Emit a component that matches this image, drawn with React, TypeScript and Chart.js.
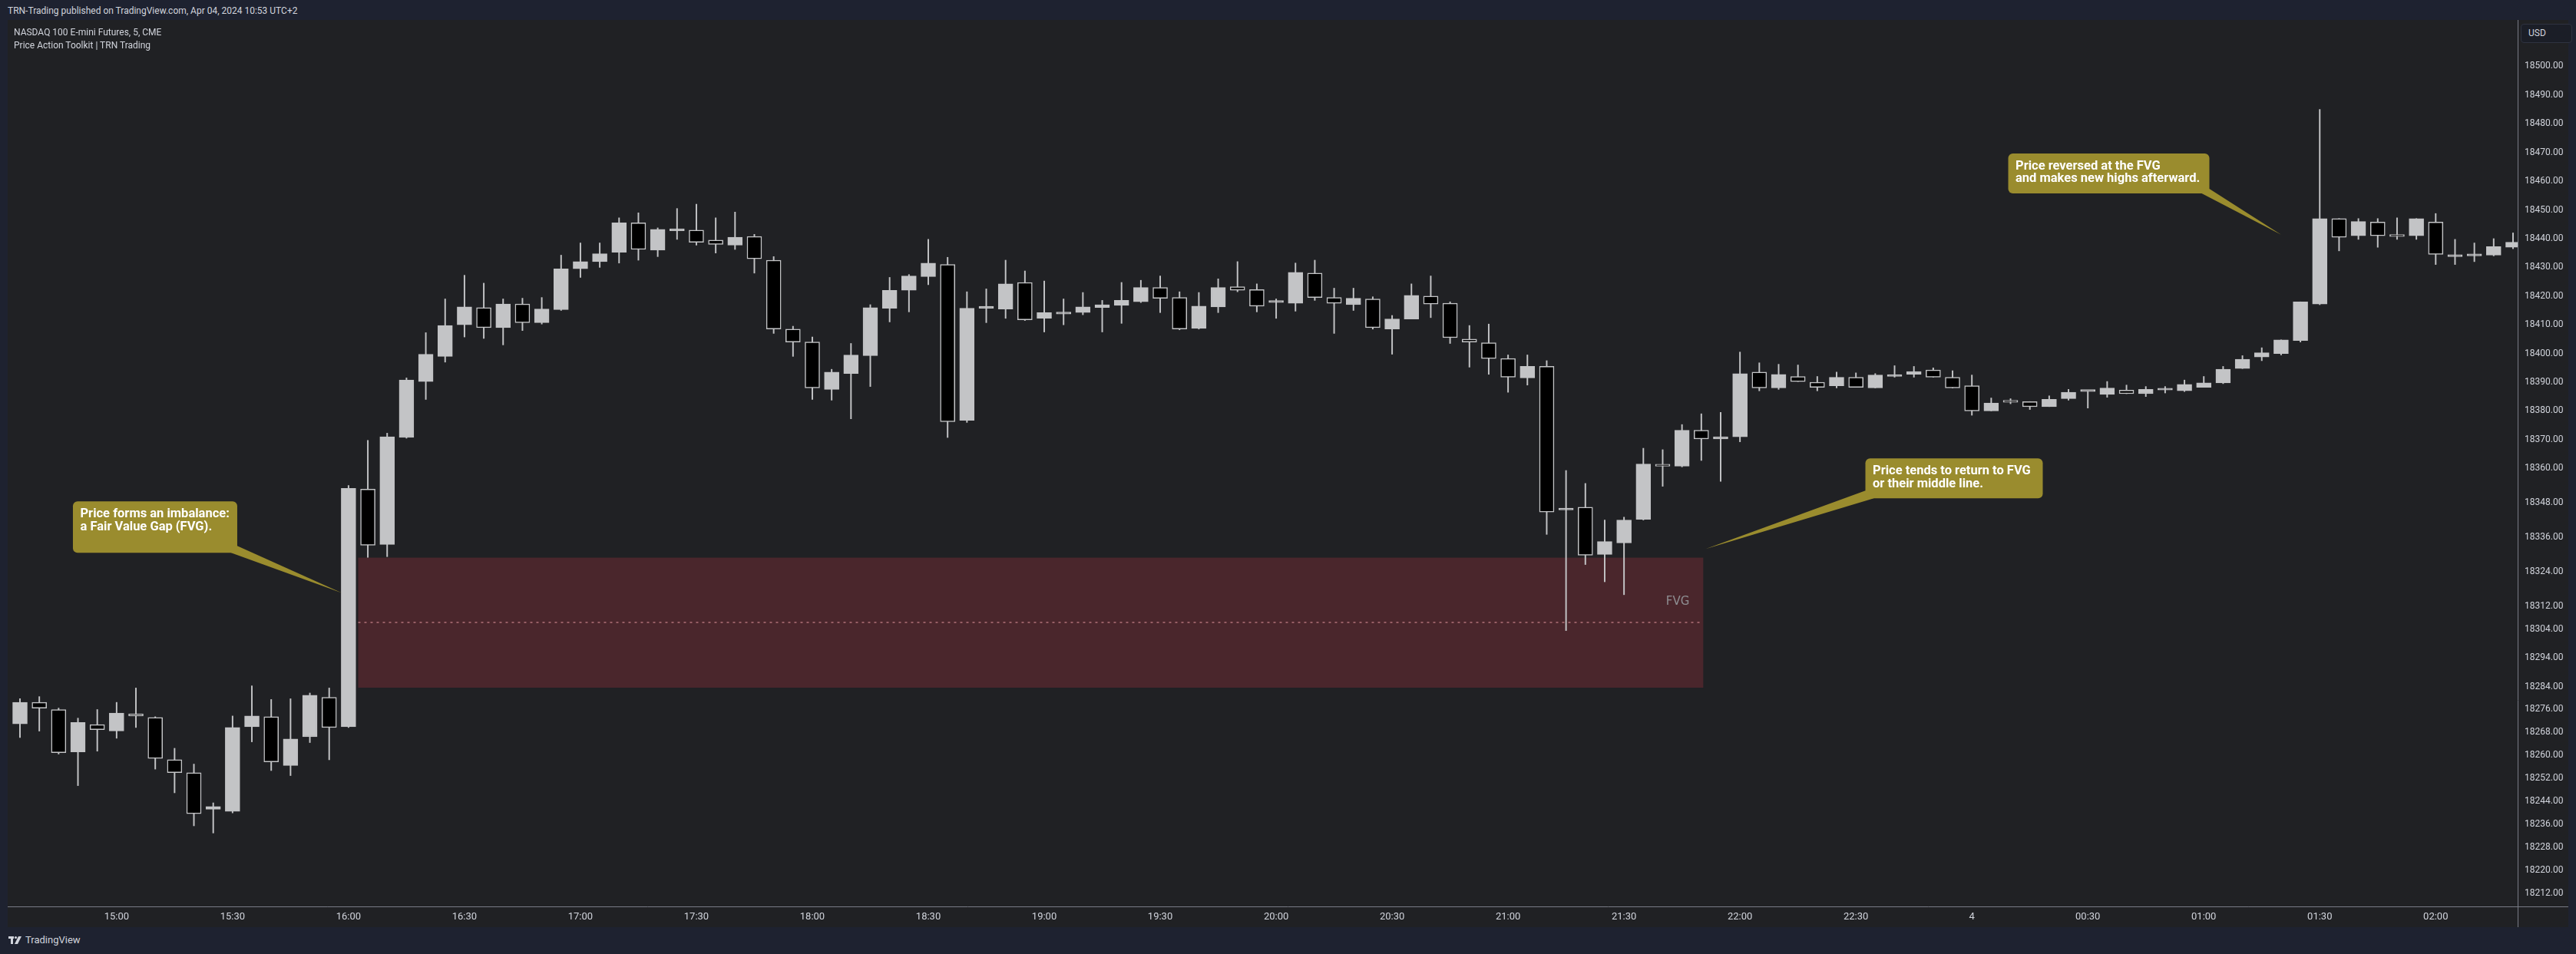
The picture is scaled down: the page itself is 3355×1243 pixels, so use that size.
import React, { useEffect, useRef } from "react";
import { Chart, registerables } from "chart.js";

Chart.register(...registerables);

// ---- Data (5-minute bars, NQ futures) ----
const opens = [
  18271.0, 18278.5, 18276.0, 18261.25, 18270.75, 18268.5, 18274.5, 18273.25, 18258.5, 18254.0,
  18241.25, 18240.5, 18270.0, 18273.5, 18256.5, 18266.5, 18280.25, 18270.0, 18352.75, 18333.5,
  18370.75, 18390.25, 18399.0, 18410.0, 18416.0, 18409.0, 18417.25, 18410.75, 18415.25, 18429.5,
  18432.0, 18435.25, 18445.5, 18436.0, 18442.75, 18443.0, 18439.5, 18437.75, 18440.75, 18432.5,
  18408.5, 18404.0, 18387.5, 18393.0, 18399.25, 18415.75, 18422.0, 18426.75, 18431.0, 18376.75,
  18415.75, 18415.5, 18424.75, 18412.25, 18413.75, 18414.25, 18416.0, 18416.75, 18418.0, 18423.0,
  18419.5, 18408.75, 18416.25, 18423.25, 18422.25, 18417.75, 18417.5, 18428.0, 18419.5, 18417.0,
  18419.0, 18408.5, 18412.0, 18420.0, 18417.5, 18405.0, 18403.75, 18398.25, 18391.5, 18395.5,
  18345.5, 18346.5, 18330.0, 18334.0, 18342.25, 18361.25, 18360.75, 18373.25, 18370.25, 18371.0,
  18393.5, 18388.0, 18392.0, 18390.0, 18388.75, 18391.75, 18388.0, 18392.0, 18392.75, 18394.25,
  18391.75, 18388.75, 18380.0, 18383.5, 18383.25, 18381.5, 18384.25, 18386.75, 18385.75, 18387.25,
  18386.0, 18387.25, 18387.0, 18388.25, 18389.75, 18394.75, 18398.75, 18400.0, 18404.5, 18417.25,
  18447.0, 18441.0, 18445.75, 18441.25, 18441.0, 18445.75, 18433.75, 18434.0, 18434.25, 18437.0,
];
const highs = [
  18279.75, 18280.5, 18276.5, 18273.0, 18276.0, 18278.5, 18283.5, 18273.5, 18262.5, 18257.0,
  18243.5, 18273.75, 18284.25, 18279.5, 18279.75, 18281.75, 18283.5, 18354.0, 18369.75, 18372.25,
  18391.5, 18407.25, 18419.0, 18427.25, 18424.5, 18419.0, 18419.25, 18419.5, 18434.25, 18438.5,
  18438.5, 18447.25, 18449.0, 18443.75, 18450.5, 18452.0, 18447.25, 18449.25, 18441.5, 18433.75,
  18409.5, 18405.75, 18394.5, 18403.5, 18417.0, 18426.5, 18427.5, 18439.75, 18433.5, 18421.5,
  18422.5, 18432.5, 18428.75, 18425.25, 18419.0, 18421.25, 18418.5, 18424.75, 18425.5, 18427.0,
  18421.5, 18421.25, 18426.0, 18432.0, 18424.25, 18419.0, 18431.5, 18432.5, 18422.75, 18422.75,
  18419.75, 18413.25, 18424.25, 18427.0, 18418.0, 18409.75, 18410.25, 18399.5, 18399.5, 18397.5,
  18359.25, 18354.75, 18342.0, 18343.0, 18367.0, 18366.5, 18375.25, 18379.0, 18379.5, 18400.5,
  18396.75, 18396.25, 18396.0, 18392.0, 18393.5, 18393.25, 18393.0, 18395.75, 18395.5, 18395.0,
  18394.0, 18392.5, 18384.5, 18384.25, 18383.25, 18385.25, 18387.5, 18386.75, 18390.25, 18389.0,
  18388.5, 18388.5, 18390.75, 18392.0, 18395.5, 18399.25, 18402.0, 18404.75, 18418.0, 18485.0,
  18447.0, 18447.0, 18447.0, 18447.25, 18447.0, 18448.75, 18439.75, 18438.5, 18440.0, 18442.0,
];
const lows = [
  18266.25, 18268.5, 18260.5, 18249.5, 18261.5, 18266.0, 18269.75, 18255.25, 18247.0, 18235.5,
  18233.0, 18240.0, 18264.75, 18254.75, 18253.0, 18264.5, 18258.5, 18269.75, 18329.0, 18329.25,
  18370.5, 18384.0, 18397.0, 18405.75, 18405.25, 18403.0, 18408.0, 18410.25, 18415.0, 18426.5,
  18430.0, 18431.5, 18432.5, 18433.75, 18439.75, 18437.75, 18435.0, 18436.25, 18428.0, 18407.0,
  18399.0, 18384.0, 18383.75, 18377.25, 18388.5, 18411.0, 18414.5, 18424.0, 18370.75, 18376.0,
  18410.75, 18412.25, 18411.5, 18407.5, 18410.0, 18413.5, 18407.5, 18410.5, 18417.75, 18414.25,
  18408.25, 18408.5, 18414.25, 18421.5, 18414.5, 18412.25, 18414.75, 18418.5, 18407.0, 18415.0,
  18408.5, 18399.75, 18412.0, 18412.5, 18403.5, 18395.25, 18392.75, 18386.5, 18389.0, 18337.0,
  18303.5, 18326.5, 18320.5, 18316.0, 18342.0, 18353.75, 18360.5, 18362.75, 18355.5, 18369.25,
  18387.0, 18387.5, 18390.25, 18387.0, 18388.0, 18388.25, 18388.0, 18391.75, 18391.75, 18391.75,
  18388.0, 18378.5, 18380.0, 18382.5, 18380.5, 18381.5, 18383.75, 18381.0, 18384.75, 18386.0,
  18385.0, 18386.25, 18386.75, 18388.25, 18389.5, 18394.75, 18397.5, 18399.5, 18404.0, 18417.0,
  18435.75, 18439.75, 18437.0, 18439.75, 18439.75, 18431.0, 18431.0, 18432.0, 18434.0, 18436.5,
];
const closes = [
  18278.5, 18276.5, 18261.0, 18271.5, 18269.0, 18274.75, 18273.75, 18259.0, 18254.0, 18239.75,
  18242.25, 18269.75, 18273.75, 18257.75, 18265.75, 18281.0, 18269.75, 18353.0, 18333.25, 18371.0,
  18390.75, 18399.75, 18409.75, 18416.25, 18409.0, 18417.25, 18410.75, 18415.5, 18429.5, 18432.0,
  18434.75, 18445.5, 18436.25, 18443.25, 18443.0, 18438.75, 18438.0, 18440.5, 18433.0, 18408.5,
  18404.0, 18388.0, 18393.5, 18399.5, 18416.0, 18422.0, 18427.0, 18431.5, 18376.25, 18415.75,
  18416.0, 18424.25, 18411.75, 18414.25, 18413.75, 18416.25, 18417.0, 18418.5, 18423.0, 18419.25,
  18408.5, 18416.5, 18423.0, 18422.0, 18416.5, 18417.75, 18428.25, 18419.5, 18417.5, 18419.25,
  18409.0, 18412.0, 18420.25, 18417.25, 18405.5, 18404.0, 18398.25, 18391.75, 18395.5, 18344.75,
  18346.0, 18329.75, 18334.5, 18342.0, 18361.5, 18360.75, 18373.25, 18370.25, 18371.0, 18393.0,
  18388.0, 18392.75, 18390.25, 18388.25, 18391.75, 18388.25, 18392.5, 18392.5, 18393.75, 18391.75,
  18388.0, 18380.0, 18382.75, 18383.0, 18381.5, 18384.0, 18386.5, 18386.75, 18388.0, 18386.0,
  18387.5, 18387.25, 18389.25, 18389.75, 18394.5, 18398.0, 18400.25, 18404.75, 18418.0, 18447.0,
  18440.5, 18446.0, 18441.0, 18440.75, 18447.0, 18434.5, 18433.75, 18434.0, 18437.25, 18438.75,
];

const timeTickIndex = [5, 11, 17, 23, 29, 35, 41, 47, 53, 59, 65, 71, 77, 83, 89, 95, 101, 107, 113, 119, 125];
const timeTickLabels = [
  "15:00", "15:30", "16:00", "16:30", "17:00", "17:30", "18:00", "18:30", "19:00", "19:30",
  "20:00", "20:30", "21:00", "21:30", "22:00", "22:30", "4", "00:30", "01:00", "01:30", "02:00",
];
const priceTicks = [
  18500, 18490, 18480, 18470, 18460, 18450, 18440, 18430, 18420, 18410, 18400, 18390, 18380, 18370,
  18360, 18348, 18336, 18324, 18312, 18304, 18294, 18284, 18276, 18268, 18260, 18252, 18244, 18236,
  18228, 18220, 18212,
];

const fvgZone = { fromIndex: 17.5, toIndex: 87.1, top: 18328.9, bottom: 18283.6, label: "FVG" };

const calloutTexts = [
  ["Price forms an imbalance:", "a Fair Value Gap (FVG)."],
  ["Price tends to return to FVG", "or their middle line."],
  ["Price reversed at the FVG", "and makes new highs afterward."],
];
const calloutBoxAt = [
  { index: 2.74, value: 18348.5 },
  { index: 95.49, value: 18363.46 },
  { index: 102.88, value: 18469.66 },
];
const calloutTipAt = [
  { index: 16.65, value: 18316.6 },
  { index: 87.22, value: 18331.9 },
  { index: 117.0, value: 18441.4 },
];

// ---- Styles / layout (not data) ----
const calloutShape = [
  { w: 214, h: 67, base: [[206, 67], [214, 58]] },
  { w: 231, h: 52, base: [[0, 42], [11, 52]] },
  { w: 262, h: 52, base: [[252, 52], [262, 46]] },
];
const BULL = "#c3c4c6";
const BEAR = "#000000";
const OLIVE = "#9a8c2e";
const PANE_BG = "#202124";
const OUTER_BG = "#1e2230";
const TEXT = "#d1d4dc";
const LINE = "#787b86";

const bodyData = opens.map((o, i) => ({ x: i, y: [o, closes[i]] }));
const wickData = opens.map((_, i) => ({ x: i, y: [lows[i], highs[i]] }));
const bodyColors = opens.map((o, i) => (closes[i] >= o ? BULL : BEAR));

const zeroPadding = (s: any) => {
  s.paddingTop = 0;
  s.paddingBottom = 0;
  s.paddingLeft = 0;
  s.paddingRight = 0;
};

const overlayPlugin = {
  id: "overlay",
  beforeDatasetsDraw(chart: any) {
    const { ctx } = chart;
    const x = chart.scales.x;
    const y = chart.scales.y;
    const x0 = x.getPixelForValue(fvgZone.fromIndex);
    const x1 = x.getPixelForValue(fvgZone.toIndex);
    const yT = y.getPixelForValue(fvgZone.top);
    const yB = y.getPixelForValue(fvgZone.bottom);
    const yM = Math.round(y.getPixelForValue((fvgZone.top + fvgZone.bottom) / 2));
    ctx.save();
    ctx.fillStyle = "#4a262c";
    ctx.fillRect(x0, yT, x1 - x0, yB - yT);
    ctx.strokeStyle = "rgba(165,105,112,0.85)";
    ctx.lineWidth = 2;
    ctx.setLineDash([3, 5]);
    ctx.beginPath();
    ctx.moveTo(x0, yM);
    ctx.lineTo(x1, yM);
    ctx.stroke();
    ctx.setLineDash([]);
    ctx.font = '15px "DejaVu Sans"';
    ctx.fillStyle = "#8e8e92";
    ctx.textAlign = "right";
    ctx.textBaseline = "bottom";
    ctx.fillText(fvgZone.label, x1 - 18, yM - 19);
    ctx.restore();
  },
  afterDatasetsDraw(chart: any) {
    const { ctx } = chart;
    const x = chart.scales.x;
    const y = chart.scales.y;
    ctx.save();
    calloutTexts.forEach((lines, k) => {
      const s = calloutShape[k];
      const bx = x.getPixelForValue(calloutBoxAt[k].index);
      const by = y.getPixelForValue(calloutBoxAt[k].value);
      const tx = x.getPixelForValue(calloutTipAt[k].index);
      const ty = y.getPixelForValue(calloutTipAt[k].value);
      ctx.fillStyle = OLIVE;
      ctx.beginPath();
      ctx.moveTo(bx + s.base[0][0], by + s.base[0][1]);
      ctx.lineTo(tx, ty);
      ctx.lineTo(bx + s.base[1][0], by + s.base[1][1]);
      ctx.closePath();
      ctx.fill();
      ctx.beginPath();
      ctx.roundRect(bx, by, s.w, s.h, 6);
      ctx.fill();
      ctx.fillStyle = "#ffffff";
      ctx.font = "bold 16.5px Roboto";
      ctx.textAlign = "left";
      ctx.textBaseline = "middle";
      lines.forEach((t, j) => ctx.fillText(t, bx + 9.5, by + 17 + j * 16.3));
    });
    ctx.restore();
  },
  afterDraw(chart: any) {
    const { ctx, chartArea, width, height } = chart;
    ctx.save();
    ctx.strokeStyle = LINE;
    ctx.lineWidth = 1;
    ctx.beginPath();
    ctx.moveTo(0, chartArea.bottom + 0.5);
    ctx.lineTo(width, chartArea.bottom + 0.5);
    ctx.moveTo(chartArea.right + 0.5, 0);
    ctx.lineTo(chartArea.right + 0.5, height);
    ctx.stroke();
    ctx.restore();
  },
};

function CandleChart() {
  const ref = useRef<HTMLCanvasElement | null>(null);
  useEffect(() => {
    if (!ref.current) return;
    const chart = new Chart(ref.current, {
      type: "bar",
      data: {
        datasets: [
          {
            data: wickData as any,
            backgroundColor: BULL,
            borderWidth: 0,
            barThickness: 1.3,
            grouped: false,
            order: 2,
          } as any,
          {
            data: bodyData as any,
            backgroundColor: bodyColors,
            borderColor: BULL,
            borderWidth: 1.5,
            borderSkipped: false,
            barThickness: 19,
            minBarLength: 2.5,
            grouped: false,
            order: 1,
          } as any,
        ],
      },
      options: {
        animation: false,
        responsive: false,
        devicePixelRatio: 1,
        layout: { padding: 0, autoPadding: false },
        plugins: { legend: { display: false }, tooltip: { enabled: false } },
        events: [],
        scales: {
          x: {
            type: "linear",
            min: -0.636,
            max: 129.24,
            offset: false,
            grid: { display: false, drawTicks: false },
            border: { display: false },
            afterBuildTicks: (s: any) => {
              s.ticks = timeTickIndex.map((v) => ({ value: v }));
            },
            afterFit: (s: any) => {
              s.height = 27;
              zeroPadding(s);
            },
            ticks: {
              autoSkip: false,
              maxRotation: 0,
              padding: 6,
              color: TEXT,
              font: { family: "Roboto", size: 13 },
              callback: (_v: any, i: number) => timeTickLabels[i],
            },
          },
          y: {
            type: "linear",
            position: "right",
            min: 18207.43,
            max: 18516.17,
            grid: { display: false, drawTicks: false },
            border: { display: false },
            afterBuildTicks: (s: any) => {
              s.ticks = priceTicks.map((v) => ({ value: v }));
            },
            afterFit: (s: any) => {
              s.width = 66;
              zeroPadding(s);
            },
            ticks: {
              autoSkip: false,
              padding: 9,
              color: TEXT,
              font: { family: "Roboto", size: 12 },
              callback: (v: any) => Number(v).toFixed(2),
            },
          },
        },
      },
      plugins: [overlayPlugin],
    } as any);
    return () => chart.destroy();
  }, []);
  return <canvas ref={ref} width={3335} height={1182} style={{ display: "block", width: 3335, height: 1182 }} />;
}

export default function App() {
  return (
    <div
      style={{
        position: "fixed",
        left: 0,
        top: 0,
        width: 3355,
        height: 1243,
        background: OUTER_BG,
        fontFamily: "Roboto, sans-serif",
        overflow: "hidden",
      }}
    >
      <div style={{ position: "absolute", left: 10, top: 6, fontSize: 12, color: TEXT, lineHeight: "16px" }}>
        TRN-Trading published on TradingView.com, Apr 04, 2024 10:53 UTC+2
      </div>
      <div style={{ position: "absolute", left: 10, top: 26, width: 3335, height: 1182, background: PANE_BG }}>
        <CandleChart />
        <div style={{ position: "absolute", left: 8, top: 8, fontSize: 12, color: TEXT, lineHeight: "17px" }}>
          <div>NASDAQ 100 E-mini Futures, 5, CME</div>
          <div>Price Action Toolkit | TRN Trading</div>
        </div>
        <div
          style={{
            position: "absolute",
            left: 3273,
            top: 5,
            width: 56,
            height: 23,
            border: "1px solid #2f3340",
            borderRadius: 4,
            background: "#1b1e27",
            color: TEXT,
            fontSize: 12,
            lineHeight: "23px",
            paddingLeft: 9,
            boxSizing: "content-box",
          }}
        >
          USD
        </div>
      </div>
      <div style={{ position: "absolute", left: 11, top: 1217, display: "flex", alignItems: "center", gap: 4, color: TEXT, fontSize: 13 }}>
        <svg width="18" height="12" viewBox="0 0 18 12">
          <rect x="0" y="1" width="7" height="3" fill={TEXT} />
          <rect x="3" y="1" width="3" height="10" fill={TEXT} />
          <circle cx="9.5" cy="2.5" r="1.6" fill={TEXT} />
          <polygon points="13,1 17,1 12,11 8,11" fill={TEXT} />
        </svg>
        <span>TradingView</span>
      </div>
    </div>
  );
}
